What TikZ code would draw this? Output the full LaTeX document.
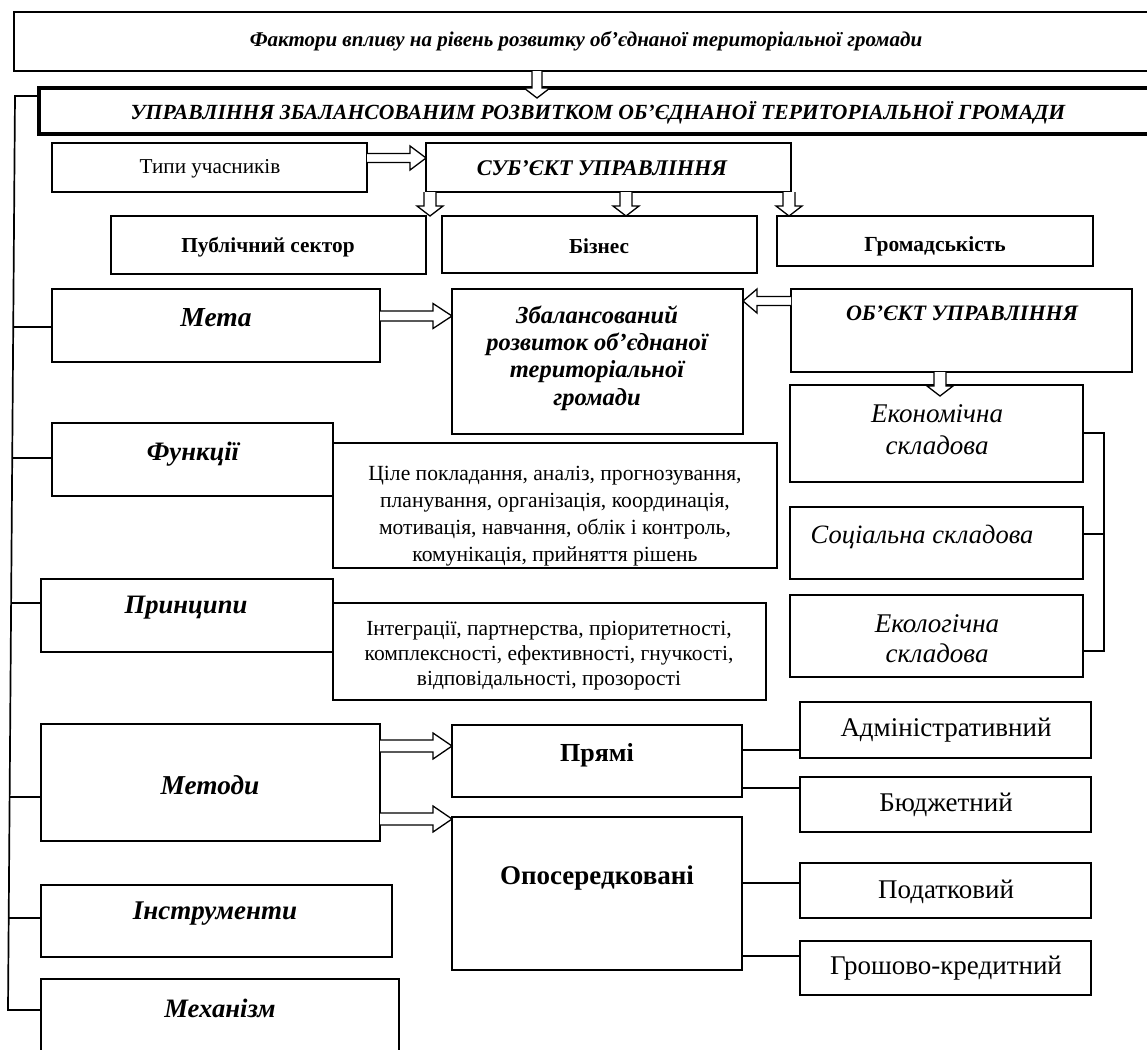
\documentclass[tikz,border=0pt]{standalone}
\usepackage{fontspec}
\setmainfont{Liberation Serif}
\usetikzlibrary{calc}
\newcommand\bx[6][]{\node[box,#1,anchor=north west,minimum width={#5-#3},minimum height={#6-#4}] (#2) at (#3,#4) {};}
% hollow arrow: #1 start, #2 end, #3 shaft half, #4 head half, #5 head length
\newcommand\harrow[5]{\draw[arr] let \p1=#1, \p2=#2, \n1={atan2(\y2-\y1,\x2-\x1)}, \n2={veclen(\x2-\x1,\y2-\y1)} in [shift={(\p1)}, rotate=\n1, x=1pt, y=1pt] (0,-#3) -- ({\n2-#5},-#3) -- ({\n2-#5},-#4) -- (\n2,0) -- ({\n2-#5},#4) -- ({\n2-#5},#3) -- (0,#3);}
\begin{document}
\begin{tikzpicture}[x=1pt,y=-1pt,
  box/.style={draw,line width=1.8pt,inner sep=0pt,outer sep=0pt,fill=white},
  arr/.style={draw,line width=1.3pt,fill=white,line join=miter},
  ln/.style={line width=1.7pt},
  fbi/.style 2 args={font=\fontsize{#1}{#2}\selectfont\bfseries\itshape},
  fb/.style 2 args={font=\fontsize{#1}{#2}\selectfont\bfseries},
  fi/.style 2 args={font=\fontsize{#1}{#2}\selectfont\itshape},
  fr/.style 2 args={font=\fontsize{#1}{#2}\selectfont},
  txt/.style={inner sep=0pt,align=center}]
\useasboundingbox (0,0) rectangle (1147,1049);
\clip (0,0) rectangle (1147,1049);
% top boxes
\bx{top}{14}{12}{1170}{71}
\node[txt,fbi={21}{21}] (topT) at (586,41) {Фактори впливу на рівень розвитку об’єднаної територіальної громади};
\bx[line width=3.5pt]{upr}{39}{88}{1170}{134}
\node[txt,fbi={21.6}{22}] (uprT) at (598,113) {УПРАВЛІННЯ ЗБАЛАНСОВАНИМ РОЗВИТКОМ ОБ’ЄДНАНОЇ ТЕРИТОРІАЛЬНОЇ ГРОМАДИ};
\harrow{(top.south -| 537,0)}{(537,98)}{5}{13}{10}
% subject
\bx{typy}{52}{143}{367}{192}
\node[txt,fr={21.2}{22}] (typyT) at (210,169) {Типи учасників};
\bx{sub}{426}{143}{791}{192}
\node[txt,fbi={22.4}{22}] (subT) at (602,168) {СУБ’ЄКТ УПРАВЛІННЯ};
\harrow{(typy.east |- 0,158)}{(sub.west |- 0,158)}{4.5}{12}{16}
\bx{pub}{111}{216}{426}{274}
\node[txt,fb={21.3}{22}] (pubT) at (268,247) {Публічний сектор};
\bx{biz}{442}{216}{757}{273}
\node[txt,fb={21.3}{22}] (bizT) at (599,246) {Бізнес};
\bx{grom}{777}{216}{1093}{266}
\node[txt,fb={21.5}{22}] (gromT) at (935,246) {Громадськість};
\harrow{(sub.south -| 430,0)}{(430,216)}{6}{13}{10}
\harrow{(sub.south -| 626,0)}{(626,216)}{6}{13}{10}
\harrow{(sub.south -| 789,0)}{(789,216)}{6}{13}{10}
% goal
\bx{meta}{52}{289}{380}{362}
\node[txt,fbi={27.5}{28}] (metaT) at (216,318) {Мета};
\bx{zb}{452}{289}{743}{434}
\node[txt,fbi={24.5}{27.3}] (zbT) at (597,358) {Збалансований\\розвиток об’єднаної\\територіальної\\громади};
\bx{ob}{791}{289}{1132}{372}
\node[txt,fbi={22}{22}] (obT) at (962,313) {ОБ’ЄКТ УПРАВЛІННЯ};
\harrow{(meta.east |- 0,316)}{(zb.west |- 0,316)}{5}{12.5}{19}
\harrow{(ob.west |- 0,301)}{(zb.east |- 0,301)}{4.5}{12}{14}
\bx{ek}{790}{385}{1083}{482}
\node[txt,fi={27}{32}] (ekT) at (937,430) {Економічна\\складова};
\bx{so}{790}{507}{1083}{579}
\node[txt,fi={26.5}{30}] (soT) at (922,537) {Соціальна складова};
\bx{eko}{790}{595}{1083}{677}
\node[txt,fi={27}{30}] (ekoT) at (937,639) {Екологічна\\складова};
\harrow{(ob.south -| 940,0)}{(940,396)}{6}{13}{10}
\coordinate (br1) at (1104,433);
\coordinate (br2) at (1104,651);
\draw[ln] (ek.east |- br1) -- (br1) -- (br2) -- (eko.east |- br2);
\draw[ln] (so.east |- 0,534) -- (br1 |- 0,534);
% functions
\bx{fun}{52}{423}{333}{496}
\node[txt,fbi={26.6}{27}] (funT) at (193,454) {Функції};
\bx{funL}{333}{443}{777}{568}
\node[txt,fr={21.6}{27}] (funLT) at (555,516) {Ціле покладання, аналіз, прогнозування,\\планування, організація, координація,\\мотивація, навчання, облік і контроль,\\комунікація, прийняття рішень};
\bx{pri}{41}{579}{333}{652}
\node[txt,fbi={26.6}{27}] (priT) at (186,608) {Принципи};
\bx{priL}{333}{603}{766}{700}
\node[txt,fr={21.5}{25}] (priLT) at (549,656) {Інтеграції, партнерства, пріоритетності,\\комплексності, ефективності, гнучкості,\\відповідальності, прозорості};
% methods
\bx{met}{41}{724}{380}{841}
\node[txt,fbi={27.3}{28}] (metT) at (210,785) {Методи};
\bx{pry}{452}{725}{742}{797}
\node[txt,fb={26}{26}] (pryT) at (597,755) {Прямі};
\bx{opo}{452}{817}{742}{970}
\node[txt,fb={27}{27}] (opoT) at (597,878) {Опосередковані};
\harrow{(met.east |- 0,746)}{(pry.west |- 0,746)}{6}{13}{19}
\harrow{(met.east |- 0,819)}{(opo.west |- 0,819)}{6}{13}{19}
\bx{adm}{800}{702}{1091}{758}
\node[txt,fr={27}{27}] (admT) at (946,730) {Адміністративний};
\bx{bud}{800}{777}{1091}{832}
\node[txt,fr={27}{27}] (budT) at (946,805) {Бюджетний};
\bx{pod}{800}{863}{1091}{918}
\node[txt,fr={27}{27}] (podT) at (946,892) {Податковий};
\bx{gro}{800}{941}{1091}{995}
\node[txt,fr={27}{27}] (groT) at (946,968) {Грошово-кредитний};
\draw[ln] (pry.east |- 0,750) -- (adm.west |- 0,750);
\draw[ln] (pry.east |- 0,788) -- (bud.west |- 0,788);
\draw[ln] (opo.east |- 0,883) -- (pod.west |- 0,883);
\draw[ln] (opo.east |- 0,956) -- (gro.west |- 0,956);
\bx{ins}{41}{885}{392}{957}
\node[txt,fbi={27}{27}] (insT) at (215,914) {Інструменти};
\bx{mex}{41}{979}{399}{1080}
\node[txt,fbi={26.6}{27}] (mexT) at (220,1008) {Механізм};
% spine
\coordinate (sp1) at (15,96);
\coordinate (sp2) at (8,1010);
\draw[ln] (upr.west |- sp1) -- (sp1) -- (sp2) -- (mex.west |- sp2);
\draw[ln] (13.2,327) -- (meta.west |- 0,327);
\draw[ln] (12.2,458) -- (fun.west |- 0,458);
\draw[ln] (11.1,603) -- (pri.west |- 0,603);
\draw[ln] (9.6,797) -- (met.west |- 0,797);
\draw[ln] (8.7,918) -- (ins.west |- 0,918);
\end{tikzpicture}
\end{document}
